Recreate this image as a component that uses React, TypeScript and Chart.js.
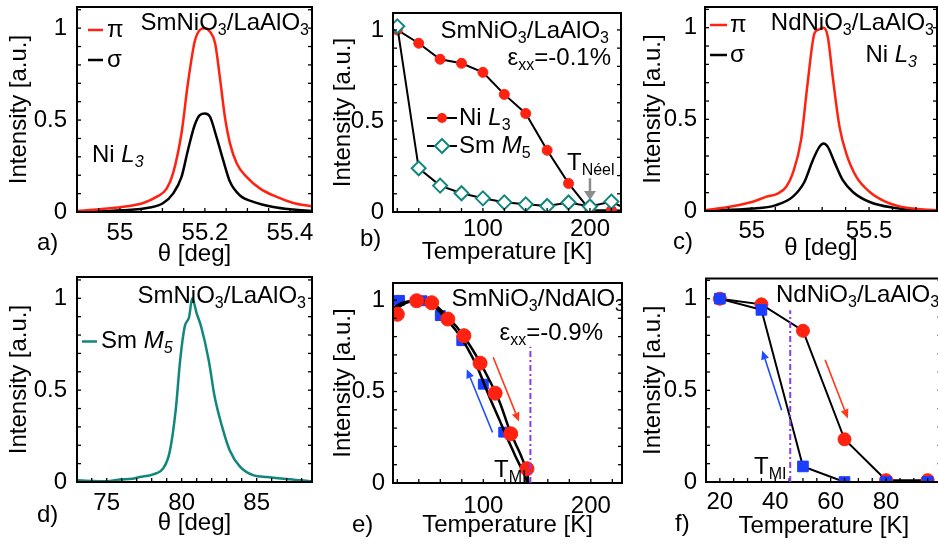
import React, { useEffect, useRef } from "react";
import { Chart, registerables } from "chart.js";
Chart.register(...registerables);

const FONT = '"Liberation Sans", Arial, Helvetica, sans-serif';
const FS = 24;
const RED = "#ff2211";
const BLUE = "#1a3dff";
const TEAL = "#11877c";
const PURPLE = "#8a3cf0";
const GRAY = "#8c8c8c";

// a) SmNiO3/LaAlO3 Ni L3 rocking curves
const aThetaPi = [54.899, 54.953, 55.004, 55.055, 55.086, 55.11, 55.125, 55.145, 55.16, 55.176, 55.188, 55.2, 55.212, 55.224, 55.235, 55.247, 55.259, 55.275, 55.298, 55.33, 55.369, 55.408, 55.45];
const aPi = [0.005, 0.015, 0.027, 0.049, 0.082, 0.127, 0.21, 0.43, 0.7, 0.927, 0.99, 1.0, 0.98, 0.918, 0.736, 0.518, 0.373, 0.264, 0.191, 0.127, 0.082, 0.049, 0.031];
const aThetaSigma = [54.899, 55.004, 55.07, 55.102, 55.125, 55.145, 55.16, 55.176, 55.188, 55.2, 55.212, 55.227, 55.243, 55.259, 55.282, 55.314, 55.361, 55.408, 55.45];
const aSigma = [0.0, 0.009, 0.024, 0.049, 0.1, 0.191, 0.336, 0.473, 0.527, 0.536, 0.518, 0.41, 0.282, 0.164, 0.091, 0.055, 0.027, 0.013, 0.005];

// b) temperature dependence, SmNiO3/LaAlO3
const bTemp = [20, 40, 60, 80, 100, 120, 140, 160, 180, 200, 220, 240];
const bNi = [1.0, 0.927, 0.839, 0.817, 0.767, 0.646, 0.541, 0.339, 0.157, 0.01, 0.01, 0.005];
const bSm = [1.02, 0.24, 0.145, 0.103, 0.075, 0.053, 0.042, 0.033, 0.052, 0.03, 0.057, 0.0];
const bNeelT = 200;
const bNeelArrow = [0.185, 0.066];

// c) NdNiO3/LaAlO3 Ni L3 rocking curves
const cThetaPi = [54.8, 54.9, 55.0, 55.06, 55.11, 55.146, 55.174, 55.21, 55.238, 55.267, 55.285, 55.306, 55.324, 55.345, 55.374, 55.403, 55.446, 55.503, 55.574, 55.66, 55.79];
const cPi = [0.004, 0.022, 0.049, 0.077, 0.095, 0.131, 0.204, 0.388, 0.698, 0.969, 0.99, 1.0, 0.951, 0.732, 0.459, 0.313, 0.186, 0.104, 0.049, 0.018, 0.004];
const cThetaSigma = [54.8, 55.0, 55.1, 55.174, 55.224, 55.26, 55.288, 55.306, 55.324, 55.352, 55.388, 55.431, 55.503, 55.603, 55.717, 55.79];
const cSigma = [0.0, 0.013, 0.031, 0.077, 0.158, 0.277, 0.35, 0.368, 0.35, 0.268, 0.168, 0.104, 0.049, 0.018, 0.004, 0.0];

// d) Sm M5 rocking curve
const dTheta = [73.0, 74.1, 75.0, 75.9, 76.7, 77.2, 78.1, 78.8, 79.2, 79.6, 79.9, 80.2, 80.5, 80.7, 81.0, 81.3, 81.8, 82.2, 82.7, 83.2, 83.9, 84.8, 85.7, 86.8, 87.9, 88.7];
const dSm = [0.009, 0.005, 0.004, 0.013, 0.018, 0.027, 0.042, 0.078, 0.164, 0.39, 0.664, 0.845, 0.9, 1.0, 0.918, 0.845, 0.664, 0.464, 0.3, 0.173, 0.082, 0.036, 0.027, 0.018, 0.009, 0.004];

// e) SmNiO3/NdAlO3 temperature dependence
const eWarmT = [20, 38, 52, 67, 82, 97, 111, 125.5, 140.6];
const eWarmI = [0.922, 0.996, 0.985, 0.896, 0.805, 0.655, 0.491, 0.269, 0.078];
const eCoolT = [22, 43, 60, 80, 100, 119];
const eCoolI = [0.998, 0.996, 0.915, 0.778, 0.54, 0.278];
const eFitWarmT = [16, 25, 35, 45, 55, 65, 75, 85, 95, 105, 115, 125, 130, 135, 139, 141, 142];
const eFitWarmI = [0.935, 0.975, 0.993, 0.992, 0.972, 0.918, 0.855, 0.775, 0.68, 0.57, 0.445, 0.28, 0.215, 0.15, 0.09, 0.05, 0.0];
const eFitCoolT = [16, 25, 35, 45, 55, 65, 75, 85, 95, 105, 115, 120, 125, 130, 135, 139, 141];
const eFitCoolI = [0.955, 0.985, 0.995, 0.99, 0.96, 0.9, 0.83, 0.74, 0.625, 0.48, 0.345, 0.275, 0.21, 0.145, 0.085, 0.035, 0.0];
const eTmi = 143.8;
const eTmiTop = 0.745;
const eArrowWarm = [109.2, 0.687, 133.2, 0.336];
const eArrowCool = [108.6, 0.276, 84.6, 0.622];

// f) NdNiO3/LaAlO3 temperature dependence
const fTemp = [20, 35, 50, 65, 80, 95];
const fWarm = [1.0, 0.969, 0.825, 0.233, 0.01, 0.01];
const fCool = [1.0, 0.939, 0.085, 0.0, 0.0, 0.0];
const fTmi = 45.4;
const fTmiTop = 0.937;
const fArrowWarm = [58.0, 0.666, 66.2, 0.347];
const fArrowCool = [42.3, 0.392, 35.3, 0.717];

const pts = (xs: number[], ys: number[]) => xs.map((x, i) => ({ x, y: ys[i] }));

type Part = { t: string; sub?: boolean; it?: boolean };
const fontOf = (p: Part, fs: number) => `${p.it ? "italic " : ""}${p.sub ? Math.round(fs * 0.68) : fs}px ${FONT}`;

function drawRich(ctx: CanvasRenderingContext2D, parts: Part[], x: number, y: number, align: "left" | "right" | "center" = "left", fs = FS, color = "#000") {
  ctx.save();
  ctx.textBaseline = "middle";
  ctx.textAlign = "left";
  ctx.fillStyle = color;
  const widths = parts.map((p) => {
    ctx.font = fontOf(p, fs);
    return ctx.measureText(p.t).width;
  });
  const total = widths.reduce((s, w) => s + w, 0);
  let cx = align === "left" ? x : align === "right" ? x - total : x - total / 2;
  parts.forEach((p, i) => {
    ctx.font = fontOf(p, fs);
    ctx.fillText(p.t, cx, p.sub ? y + fs * 0.3 : y);
    cx += widths[i];
  });
  ctx.restore();
}

function seg(ctx: CanvasRenderingContext2D, x1: number, y1: number, x2: number, y2: number, color: string, lw: number, dash: number[] = []) {
  ctx.save();
  ctx.strokeStyle = color;
  ctx.lineWidth = lw;
  ctx.setLineDash(dash);
  ctx.beginPath();
  ctx.moveTo(x1, y1);
  ctx.lineTo(x2, y2);
  ctx.stroke();
  ctx.restore();
}

function arrow(ctx: CanvasRenderingContext2D, x1: number, y1: number, x2: number, y2: number, color: string, lw: number, hl: number, hw: number) {
  const a = Math.atan2(y2 - y1, x2 - x1);
  const bx = x2 - hl * Math.cos(a);
  const by = y2 - hl * Math.sin(a);
  seg(ctx, x1, y1, bx, by, color, lw);
  ctx.save();
  ctx.fillStyle = color;
  ctx.beginPath();
  ctx.moveTo(x2, y2);
  ctx.lineTo(bx + (hw / 2) * Math.sin(a), by - (hw / 2) * Math.cos(a));
  ctx.lineTo(bx - (hw / 2) * Math.sin(a), by + (hw / 2) * Math.cos(a));
  ctx.closePath();
  ctx.fill();
  ctx.restore();
}

const sub = (t: string, it = false): Part => ({ t, sub: true, it });
const txt = (t: string, it = false): Part => ({ t, it });

type Helpers = { X: (v: number) => number; Y: (v: number) => number; area: { l: number; t: number; r: number; b: number } };

type Spec = {
  left: number; top: number; w: number; h: number;
  area: { l: number; t: number; r: number; b: number };
  x: { min: number; max: number; step: number; every: number; title: string; tickPad: number; titlePad: number };
  y: { min: number; max: number; step: number; every: number; tickPad: number; titlePad: number };
  datasets: any[];
  annotate: (ctx: CanvasRenderingContext2D, h: Helpers) => void;
};

const isMult = (v: number, m: number) => Math.abs(v / m - Math.round(v / m)) < 1e-6;
const fmt = (v: number) => String(parseFloat(v.toFixed(4)));

function buildConfig(s: Spec): any {
  const font = { family: FONT, size: FS };
  return {
    type: "line",
    data: { datasets: s.datasets },
    options: {
      responsive: false,
      animation: false,
      devicePixelRatio: 1,
      events: [],
      layout: { padding: { left: 0, top: s.area.t - s.top, right: s.left + s.w - s.area.r, bottom: 0 } },
      plugins: { legend: { display: false }, tooltip: { enabled: false }, title: { display: false } },
      scales: {
        x: {
          type: "linear",
          min: s.x.min,
          max: s.x.max,
          afterFit: (sc: any) => { sc.height = s.top + s.h - s.area.b; sc.paddingLeft = 0; sc.paddingRight = 0; sc.paddingTop = 0; sc.paddingBottom = 0; },
          grid: { display: false, drawTicks: false },
          border: { display: false },
          ticks: {
            stepSize: s.x.step, includeBounds: false, autoSkip: false, maxRotation: 0, minRotation: 0,
            padding: s.x.tickPad, color: "#000", font,
            callback: (v: number) => (isMult(v, s.x.every) && v < s.x.max - 1e-9 ? fmt(v) : ""),
          },
          title: { display: true, text: s.x.title, color: "#000", font, padding: { top: 0, bottom: s.x.titlePad } },
        },
        y: {
          type: "linear",
          min: s.y.min,
          max: s.y.max,
          afterFit: (sc: any) => { sc.width = s.area.l - s.left; sc.paddingTop = 0; sc.paddingBottom = 0; sc.paddingLeft = 0; sc.paddingRight = 0; },
          grid: { display: false, drawTicks: false },
          border: { display: false },
          ticks: {
            stepSize: s.y.step, includeBounds: false, autoSkip: false,
            padding: s.y.tickPad, color: "#000", font,
            callback: (v: number) => (isMult(v, s.y.every) ? fmt(v) : ""),
          },
          title: { display: true, text: "Intensity [a.u.]", color: "#000", font, padding: { top: s.y.titlePad, bottom: 0 } },
        },
      },
    },
    plugins: [
      {
        id: "frame",
        afterDatasetsDraw(chart: any) {
          const { ctx, chartArea: a, scales } = chart;
          ctx.save();
          ctx.strokeStyle = "#000";
          ctx.lineWidth = 1.3;
          const L = 4;
          for (const t of scales.x.ticks) {
            const px = scales.x.getPixelForValue(t.value);
            if (px < a.left + 1 || px > a.right - 1) continue;
            ctx.beginPath(); ctx.moveTo(px, a.bottom); ctx.lineTo(px, a.bottom - L); ctx.stroke();
          }
          for (const t of scales.y.ticks) {
            const py = scales.y.getPixelForValue(t.value);
            if (py < a.top + 1 || py > a.bottom - 1) continue;
            ctx.beginPath(); ctx.moveTo(a.left, py); ctx.lineTo(a.left + L, py); ctx.stroke();
            ctx.beginPath(); ctx.moveTo(a.right, py); ctx.lineTo(a.right - L, py); ctx.stroke();
          }
          ctx.lineWidth = 2;
          ctx.strokeRect(a.left, a.top, a.right - a.left, a.bottom - a.top);
          ctx.restore();
        },
        afterDraw(chart: any) {
          const { ctx, chartArea: a, scales } = chart;
          ctx.save();
          ctx.translate(-s.left, -s.top);
          s.annotate(ctx, {
            X: (v: number) => scales.x.getPixelForValue(v) + s.left,
            Y: (v: number) => scales.y.getPixelForValue(v) + s.top,
            area: { l: a.left + s.left, t: a.top + s.top, r: a.right + s.left, b: a.bottom + s.top },
          });
          ctx.restore();
        },
      },
    ],
  };
}

const curve = (data: any, color: string, lw = 2.5, extra: any = {}) => ({
  data, borderColor: color, borderWidth: lw, pointRadius: 0, fill: false,
  cubicInterpolationMode: "monotone", clip: 0, ...extra,
});

const legendLine = (ctx: CanvasRenderingContext2D, x1: number, x2: number, y: number, color: string) => seg(ctx, x1, y, x2, y, color, 2.5);

const specs: Spec[] = [
  {
    left: 0, top: 0, w: 320, h: 270,
    area: { l: 77, t: 7, r: 312, b: 212 },
    x: { min: 54.899, max: 55.452, step: 0.05, every: 0.2, title: "θ [deg]", tickPad: 7, titlePad: 1 },
    y: { min: 0, max: 1.115, step: 0.1, every: 0.5, tickPad: 10, titlePad: 5 },
    datasets: [curve(pts(aThetaSigma, aSigma), "#000", 2.5, { order: 1 }), curve(pts(aThetaPi, aPi), RED, 2.5, { order: 0 })],
    annotate: (ctx) => {
      drawRich(ctx, [txt("SmNiO"), sub("3"), txt("/LaAlO"), sub("3")], 309, 23, "right");
      legendLine(ctx, 88, 103, 30, RED);
      drawRich(ctx, [txt("π")], 107, 30);
      legendLine(ctx, 88, 103, 60, "#000");
      drawRich(ctx, [txt("σ")], 107, 60);
      drawRich(ctx, [txt("Ni "), txt("L", true), sub("3", true)], 92, 155);
      drawRich(ctx, [txt("a)")], 37, 243);
    },
  },
  {
    left: 320, top: 0, w: 310, h: 270,
    area: { l: 393, t: 13, r: 623, b: 212 },
    x: { min: 16, max: 229, step: 20, every: 100, title: "Temperature [K]", tickPad: 2.5, titlePad: 3.5 },
    y: { min: 0, max: 1.093, step: 0.1, every: 0.5, tickPad: 9, titlePad: 8.5 },
    datasets: [
      { data: pts(bTemp, bSm), borderColor: "#000", borderWidth: 2, pointStyle: "rectRot", pointRadius: 7, pointBackgroundColor: "#fff", pointBorderColor: TEAL, pointBorderWidth: 2, clip: 0, order: 0 },
      { data: pts(bTemp, bNi), borderColor: "#000", borderWidth: 2, pointStyle: "circle", pointRadius: 5, pointBackgroundColor: RED, pointBorderColor: RED, pointBorderWidth: 1, clip: 0, order: 1 },
    ],
    annotate: (ctx, h) => {
      drawRich(ctx, [txt("SmNiO"), sub("3"), txt("/LaAlO"), sub("3")], 609, 31.5, "right");
      drawRich(ctx, [txt("ε"), sub("xx"), txt("=-0.1%")], 611, 58, "right");
      seg(ctx, 427, 118, 457, 118, "#000", 2);
      ctx.save(); ctx.fillStyle = RED; ctx.beginPath(); ctx.arc(442, 118, 5, 0, Math.PI * 2); ctx.fill(); ctx.restore();
      drawRich(ctx, [txt("Ni "), txt("L", true), sub("3")], 459, 118);
      seg(ctx, 427, 146, 457, 146, "#000", 2);
      ctx.save(); ctx.fillStyle = "#fff"; ctx.strokeStyle = TEAL; ctx.lineWidth = 2; ctx.beginPath();
      ctx.moveTo(435, 146); ctx.lineTo(442, 139); ctx.lineTo(449, 146); ctx.lineTo(442, 153); ctx.closePath(); ctx.fill(); ctx.stroke(); ctx.restore();
      drawRich(ctx, [txt("Sm "), txt("M", true), sub("5")], 459, 146);
      drawRich(ctx, [txt("T"), sub("Néel")], 567, 163);
      arrow(ctx, h.X(bNeelT), h.Y(bNeelArrow[0]), h.X(bNeelT), h.Y(bNeelArrow[1]), GRAY, 2.5, 9, 12);
      drawRich(ctx, [txt("b)")], 360, 239);
    },
  },
  {
    left: 630, top: 0, w: 308, h: 270,
    area: { l: 705, t: 7, r: 937, b: 211 },
    x: { min: 54.8, max: 55.79, step: 0.1, every: 0.5, title: "θ [deg]", tickPad: 5.5, titlePad: 7.5 },
    y: { min: 0, max: 1.113, step: 0.1, every: 0.5, tickPad: 8, titlePad: 8.5 },
    datasets: [curve(pts(cThetaSigma, cSigma), "#000", 2.5, { order: 1 }), curve(pts(cThetaPi, cPi), RED, 2.5, { order: 0 })],
    annotate: (ctx) => {
      drawRich(ctx, [txt("NdNiO"), sub("3"), txt("/LaAlO"), sub("3")], 934, 23, "right");
      drawRich(ctx, [txt("Ni "), txt("L", true), sub("3", true)], 917, 55, "right");
      legendLine(ctx, 710, 727, 25, RED);
      drawRich(ctx, [txt("π")], 730, 25);
      legendLine(ctx, 710, 727, 55, "#000");
      drawRich(ctx, [txt("σ")], 730, 55);
      drawRich(ctx, [txt("c)")], 673, 242);
    },
  },
  {
    left: 0, top: 270, w: 320, h: 275,
    area: { l: 77, t: 277, r: 312, b: 482 },
    x: { min: 73.02, max: 88.69, step: 1, every: 5, title: "θ [deg]", tickPad: 7, titlePad: 7 },
    y: { min: 0, max: 1.116, step: 0.1, every: 0.5, tickPad: 10, titlePad: 5 },
    datasets: [curve(pts(dTheta, dSm), TEAL, 2.5)],
    annotate: (ctx) => {
      drawRich(ctx, [txt("SmNiO"), sub("3"), txt("/LaAlO"), sub("3")], 306, 296.5, "right");
      legendLine(ctx, 82, 97, 341.5, TEAL);
      drawRich(ctx, [txt("Sm "), txt("M", true), sub("5", true)], 101, 341.5);
      drawRich(ctx, [txt("d)")], 37, 515);
    },
  },
  {
    left: 320, top: 270, w: 310, h: 275,
    area: { l: 393, t: 283, r: 623, b: 483 },
    x: { min: 16, max: 229, step: 20, every: 100, title: "Temperature [K]", tickPad: 9, titlePad: 5.5 },
    y: { min: 0, max: 1.093, step: 0.1, every: 0.5, tickPad: 8, titlePad: 8.5 },
    datasets: [
      { data: pts(eWarmT, eWarmI), showLine: false, pointStyle: "circle", pointRadius: 7, pointBackgroundColor: RED, pointBorderColor: RED, pointBorderWidth: 1, clip: 0, order: 0 },
      curve(pts(eFitWarmT, eFitWarmI), "#000", 2.5, { order: 1 }),
      curve(pts(eFitCoolT, eFitCoolI), "#000", 2.5, { order: 1 }),
      { data: pts(eCoolT, eCoolI), showLine: false, pointStyle: "rect", pointRadius: 7, pointBackgroundColor: BLUE, pointBorderColor: BLUE, pointBorderWidth: 1, clip: 0, order: 2 },
    ],
    annotate: (ctx, h) => {
      drawRich(ctx, [txt("SmNiO"), sub("3"), txt("/NdAlO"), sub("3")], 624, 299, "right");
      drawRich(ctx, [txt("ε"), sub("xx"), txt("=-0.9%")], 603, 333, "right");
      seg(ctx, h.X(eTmi), h.Y(0), h.X(eTmi), h.Y(eTmiTop), PURPLE, 2, [6, 3, 2, 3]);
      drawRich(ctx, [txt("T"), sub("MI")], 494, 470);
      arrow(ctx, h.X(eArrowWarm[0]), h.Y(eArrowWarm[1]), h.X(eArrowWarm[2]), h.Y(eArrowWarm[3]), "#ff3a1a", 1.6, 9, 8);
      arrow(ctx, h.X(eArrowCool[0]), h.Y(eArrowCool[1]), h.X(eArrowCool[2]), h.Y(eArrowCool[3]), "#1f4dff", 1.6, 9, 8);
      drawRich(ctx, [txt("e)")], 352, 525);
    },
  },
  {
    left: 630, top: 270, w: 320, h: 275,
    area: { l: 706, t: 278, r: 942, b: 482 },
    x: { min: 15, max: 100, step: 5, every: 20, title: "Temperature [K]", tickPad: 5.5, titlePad: 4.5 },
    y: { min: 0, max: 1.11, step: 0.1, every: 0.5, tickPad: 9, titlePad: 8.5 },
    datasets: [
      { data: pts(fTemp, fCool), borderColor: "#000", borderWidth: 2, pointStyle: "rect", pointRadius: 7.5, pointBackgroundColor: BLUE, pointBorderColor: BLUE, pointBorderWidth: 1, clip: 0, order: 0 },
      { data: pts(fTemp, fWarm), borderColor: "#000", borderWidth: 2, pointStyle: "circle", pointRadius: 6.5, pointBackgroundColor: RED, pointBorderColor: RED, pointBorderWidth: 1, clip: 0, order: 1 },
    ],
    annotate: (ctx, h) => {
      drawRich(ctx, [txt("NdNiO"), sub("3"), txt("/LaAlO"), sub("3")], 776, 295, "left");
      seg(ctx, h.X(fTmi), h.Y(0), h.X(fTmi), h.Y(fTmiTop), PURPLE, 2, [6, 3, 2, 3]);
      drawRich(ctx, [txt("T"), sub("MI")], 754, 467);
      arrow(ctx, h.X(fArrowWarm[0]), h.Y(fArrowWarm[1]), h.X(fArrowWarm[2]), h.Y(fArrowWarm[3]), "#ff3a1a", 1.6, 9, 8);
      arrow(ctx, h.X(fArrowCool[0]), h.Y(fArrowCool[1]), h.X(fArrowCool[2]), h.Y(fArrowCool[3]), "#1f4dff", 1.6, 9, 8);
      drawRich(ctx, [txt("f)")], 675, 524);
    },
  },
];

function Panel({ spec }: { spec: Spec }) {
  const ref = useRef<HTMLCanvasElement>(null);
  useEffect(() => {
    const chart = new Chart(ref.current as HTMLCanvasElement, buildConfig(spec));
    return () => chart.destroy();
  }, [spec]);
  return (
    <canvas
      ref={ref}
      width={spec.w}
      height={spec.h}
      style={{ position: "absolute", left: spec.left, top: spec.top, width: spec.w, height: spec.h }}
    />
  );
}

export default function App() {
  return (
    <div style={{ position: "fixed", left: 0, top: 0, width: 938, height: 545, overflow: "hidden", background: "#fff" }}>
      {specs.map((s, i) => (
        <Panel key={i} spec={s} />
      ))}
    </div>
  );
}
